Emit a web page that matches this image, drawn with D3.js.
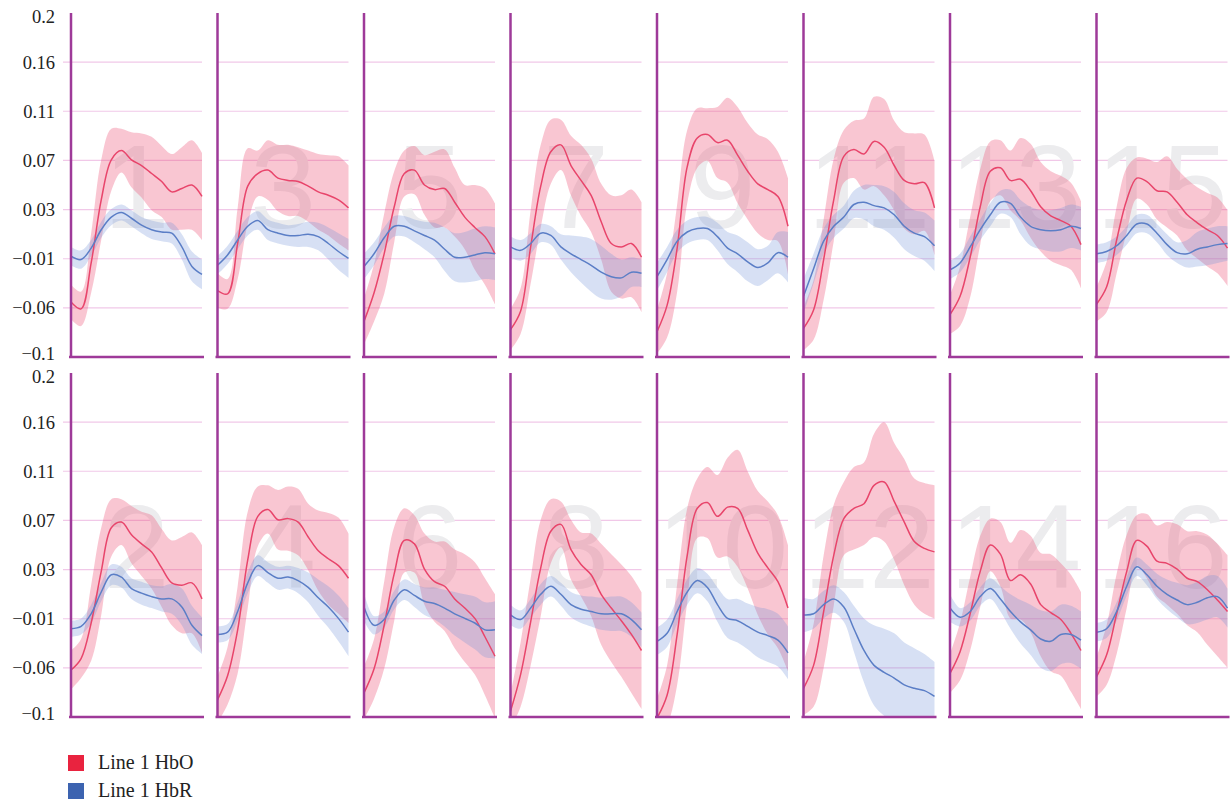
<!DOCTYPE html>
<html><head><meta charset="utf-8">
<script src="https://cdn.jsdelivr.net/npm/d3@7"></script>
<style>html,body{margin:0;padding:0;background:#fff;} svg{display:block}</style>
</head><body><svg id="chart" width="1230" height="803"></svg>
<script>
// ---------- data ----------
const timePoints = [0,1,2,3,4,5,6,7,8,9,10,11,12,13];
const channelRows = [[1,3,5,7,9,11,13,15],[2,4,6,8,10,12,14,16]];
const yTickValues = [-0.1,-0.0571,-0.0143,0.0286,0.0714,0.1143,0.1571,0.2];
const yTickLabels = ["\u22120.1","\u22120.06","\u22120.01","0.03","0.07","0.11","0.16","0.2"];
const seriesNames = ["Line 1 HbO","Line 1 HbR"];

// index = channel - 1
const hboMean = [
 [-0.052,-0.058,-0.018,0.037,0.072,0.080,0.072,0.067,0.060,0.053,0.044,0.047,0.050,0.040],
 [-0.059,-0.049,-0.018,0.027,0.065,0.070,0.059,0.051,0.044,0.030,0.017,0.015,0.017,0.003],
 [-0.042,-0.045,-0.001,0.049,0.060,0.063,0.056,0.054,0.053,0.049,0.044,0.041,0.037,0.030],
 [-0.085,-0.064,-0.024,0.037,0.075,0.081,0.072,0.073,0.070,0.057,0.045,0.038,0.032,0.021],
 [-0.069,-0.044,-0.010,0.031,0.060,0.063,0.050,0.046,0.047,0.035,0.022,0.013,0.005,-0.010],
 [-0.079,-0.058,-0.020,0.025,0.054,0.051,0.029,0.018,0.014,0.003,-0.005,-0.014,-0.030,-0.047],
 [-0.076,-0.060,-0.004,0.049,0.079,0.085,0.067,0.054,0.041,0.018,-0.001,-0.004,-0.001,-0.013],
 [-0.095,-0.063,-0.017,0.030,0.062,0.068,0.046,0.033,0.024,0.007,-0.005,-0.016,-0.028,-0.042],
 [-0.078,-0.055,-0.005,0.066,0.091,0.094,0.087,0.089,0.076,0.062,0.051,0.046,0.040,0.014],
 [-0.101,-0.081,-0.028,0.041,0.082,0.087,0.075,0.083,0.082,0.063,0.043,0.030,0.018,-0.005],
 [-0.075,-0.059,-0.015,0.037,0.075,0.081,0.077,0.088,0.083,0.067,0.054,0.051,0.052,0.030],
 [-0.075,-0.055,-0.008,0.041,0.073,0.082,0.086,0.102,0.105,0.088,0.070,0.053,0.047,0.044],
 [-0.063,-0.047,-0.013,0.031,0.062,0.065,0.054,0.055,0.045,0.031,0.023,0.019,0.014,-0.002],
 [-0.062,-0.043,-0.010,0.027,0.050,0.042,0.019,0.024,0.016,-0.002,-0.009,-0.015,-0.027,-0.042],
 [-0.054,-0.039,0.002,0.037,0.056,0.053,0.045,0.044,0.035,0.024,0.017,0.011,0.006,-0.005],
 [-0.065,-0.046,-0.010,0.027,0.054,0.049,0.036,0.034,0.029,0.021,0.018,0.011,0.002,-0.008]
];
const hboErr = [
 [0.015,0.015,0.026,0.035,0.027,0.019,0.024,0.028,0.032,0.031,0.033,0.036,0.039,0.038],
 [0.017,0.017,0.033,0.038,0.025,0.020,0.025,0.028,0.032,0.034,0.037,0.042,0.044,0.047],
 [0.015,0.013,0.031,0.033,0.020,0.026,0.029,0.031,0.030,0.031,0.033,0.035,0.038,0.037],
 [0.020,0.025,0.038,0.042,0.026,0.021,0.026,0.028,0.029,0.029,0.035,0.040,0.042,0.039],
 [0.020,0.025,0.035,0.031,0.020,0.021,0.026,0.033,0.034,0.030,0.028,0.037,0.042,0.044],
 [0.023,0.026,0.038,0.041,0.028,0.025,0.031,0.035,0.039,0.043,0.047,0.049,0.051,0.054],
 [0.018,0.020,0.032,0.036,0.028,0.022,0.026,0.031,0.032,0.033,0.042,0.045,0.047,0.048],
 [0.015,0.028,0.038,0.042,0.028,0.020,0.026,0.028,0.036,0.044,0.047,0.049,0.051,0.051],
 [0.019,0.028,0.038,0.032,0.026,0.023,0.031,0.037,0.042,0.042,0.043,0.044,0.039,0.042],
 [0.017,0.026,0.044,0.041,0.026,0.031,0.036,0.043,0.051,0.051,0.054,0.058,0.058,0.055],
 [0.019,0.026,0.035,0.036,0.023,0.025,0.031,0.039,0.042,0.039,0.042,0.044,0.042,0.041],
 [0.023,0.036,0.049,0.044,0.032,0.036,0.036,0.045,0.052,0.051,0.055,0.055,0.057,0.058],
 [0.017,0.026,0.035,0.033,0.026,0.024,0.026,0.036,0.041,0.039,0.039,0.039,0.038,0.038],
 [0.017,0.025,0.032,0.031,0.023,0.028,0.033,0.039,0.042,0.045,0.051,0.049,0.051,0.051],
 [0.015,0.022,0.029,0.028,0.018,0.020,0.025,0.031,0.029,0.031,0.031,0.032,0.033,0.033],
 [0.017,0.026,0.035,0.032,0.022,0.028,0.031,0.036,0.039,0.041,0.044,0.048,0.049,0.049]
];
const hbrMean = [
 [-0.012,-0.015,-0.005,0.011,0.022,0.026,0.021,0.015,0.011,0.009,0.008,-0.004,-0.021,-0.028],
 [-0.023,-0.021,-0.010,0.009,0.024,0.022,0.012,0.008,0.005,0.003,0.003,-0.004,-0.020,-0.029],
 [-0.020,-0.011,0.002,0.014,0.019,0.011,0.008,0.006,0.006,0.007,0.005,-0.001,-0.008,-0.014],
 [-0.028,-0.026,-0.008,0.017,0.032,0.026,0.021,0.022,0.019,0.013,0.004,-0.004,-0.014,-0.026],
 [-0.021,-0.010,0.004,0.014,0.014,0.010,0.006,0.002,-0.006,-0.013,-0.013,-0.011,-0.009,-0.010],
 [-0.004,-0.020,-0.015,0.002,0.011,0.006,0.001,-0.001,-0.005,-0.010,-0.014,-0.018,-0.024,-0.024],
 [-0.004,-0.007,-0.001,0.008,0.006,-0.004,-0.010,-0.015,-0.020,-0.026,-0.030,-0.031,-0.026,-0.027],
 [-0.011,-0.015,-0.005,0.007,0.014,0.007,-0.002,-0.006,-0.008,-0.010,-0.010,-0.010,-0.015,-0.024],
 [-0.030,-0.015,0.001,0.009,0.012,0.012,0.005,-0.005,-0.010,-0.017,-0.022,-0.018,-0.009,-0.013],
 [-0.034,-0.027,-0.008,0.009,0.019,0.013,-0.002,-0.014,-0.016,-0.021,-0.026,-0.029,-0.033,-0.044],
 [-0.047,-0.023,0.001,0.014,0.022,0.033,0.035,0.032,0.030,0.024,0.014,0.008,0.005,-0.003],
 [-0.011,-0.010,-0.002,0.003,-0.004,-0.023,-0.042,-0.055,-0.061,-0.066,-0.072,-0.075,-0.077,-0.082],
 [-0.024,-0.018,-0.004,0.011,0.024,0.035,0.034,0.022,0.014,0.011,0.010,0.011,0.014,0.012],
 [-0.005,-0.013,-0.008,0.005,0.012,0.003,-0.008,-0.017,-0.024,-0.032,-0.034,-0.028,-0.028,-0.033],
 [-0.010,-0.008,-0.003,0.006,0.016,0.016,0.008,-0.002,-0.009,-0.010,-0.006,-0.004,-0.002,-0.001],
 [-0.026,-0.023,-0.008,0.014,0.031,0.024,0.014,0.007,0.002,-0.002,0.000,0.004,0.005,-0.005]
];
const hbrErr = [
 [0.008,0.008,0.007,0.007,0.007,0.007,0.007,0.007,0.008,0.008,0.009,0.011,0.013,0.013],
 [0.007,0.007,0.008,0.008,0.009,0.009,0.009,0.010,0.010,0.011,0.013,0.016,0.017,0.016],
 [0.008,0.008,0.008,0.008,0.008,0.009,0.009,0.009,0.010,0.011,0.012,0.014,0.016,0.017],
 [0.007,0.007,0.008,0.009,0.009,0.009,0.010,0.010,0.011,0.013,0.016,0.018,0.020,0.021],
 [0.011,0.010,0.009,0.009,0.009,0.010,0.012,0.015,0.019,0.021,0.022,0.023,0.023,0.023],
 [0.012,0.008,0.007,0.008,0.009,0.010,0.012,0.014,0.016,0.019,0.021,0.023,0.024,0.025],
 [0.009,0.009,0.009,0.008,0.008,0.011,0.016,0.020,0.023,0.023,0.020,0.016,0.013,0.012],
 [0.009,0.008,0.008,0.009,0.009,0.010,0.011,0.012,0.013,0.014,0.015,0.015,0.015,0.015],
 [0.012,0.011,0.010,0.010,0.010,0.010,0.012,0.014,0.016,0.017,0.016,0.015,0.018,0.022],
 [0.012,0.012,0.011,0.011,0.011,0.012,0.015,0.017,0.019,0.020,0.022,0.023,0.023,0.023],
 [0.015,0.013,0.011,0.010,0.010,0.012,0.015,0.018,0.019,0.020,0.020,0.020,0.021,0.022],
 [0.015,0.013,0.012,0.012,0.013,0.020,0.028,0.035,0.038,0.039,0.037,0.035,0.032,0.030],
 [0.008,0.008,0.009,0.009,0.010,0.010,0.012,0.015,0.017,0.017,0.018,0.019,0.019,0.019],
 [0.012,0.008,0.008,0.008,0.009,0.011,0.015,0.019,0.022,0.025,0.026,0.026,0.025,0.025],
 [0.008,0.008,0.008,0.008,0.008,0.008,0.008,0.009,0.009,0.012,0.015,0.016,0.016,0.015],
 [0.008,0.008,0.008,0.008,0.008,0.009,0.011,0.013,0.015,0.017,0.018,0.019,0.018,0.017]
];

// ---------- layout / style ----------
const panelW = 131, panelH = 344;
const colors = {
  hboLine:"#e8456b", hboBand:"#ec4d74", hbrLine:"#5b7ec6", hbrBand:"#6f8fd8",
  axis:"#9e3a99", grid:"#f1c8e8", bigNum:"#ececee",
  legendHbo:"#e9233f", legendHbr:"#3c63b0"
};
const svg = d3.select("#chart");
const colScale = d3.scaleBand().domain(d3.range(8)).range([71, 71 + 146.5*8]);
const rowScale = d3.scaleBand().domain([0,1]).range([13, 13 + 360*2]);
const x = d3.scaleLinear().domain([0, 13]).range([0, panelW]);
const y = d3.scaleLinear().domain([-0.1, 0.2]).range([panelH, 0]);
const curve = d3.curveCatmullRom.alpha(0.5);

const band = (m, e) => d3.area()
  .x((d,i)=>x(timePoints[i]))
  .y0((d,i)=>y(m[i]-e[i]))
  .y1((d,i)=>y(m[i]+e[i]))
  .curve(curve)(timePoints);
const line = m => d3.line()
  .x((d,i)=>x(timePoints[i]))
  .y((d,i)=>y(m[i]))
  .curve(curve)(timePoints);

const defs = svg.append("defs");
defs.append("clipPath").attr("id","panelClip")
  .append("rect").attr("x",0).attr("y",0).attr("width",panelW+1).attr("height",panelH);

channelRows.forEach((row, r) => {
  row.forEach((ch, c) => {
    const k = ch - 1;
    const g = svg.append("g").attr("transform", `translate(${colScale(c)},${rowScale(r)})`);
    g.selectAll("line.grid").data(yTickValues.slice(1, -1)).enter().append("line")
      .attr("class","grid")
      .attr("x1", c === 0 ? -8 : 0).attr("x2", panelW)
      .attr("y1", d=>y(d)).attr("y2", d=>y(d))
      .attr("stroke", colors.grid).attr("stroke-width", 1.2);
    g.append("text").attr("x", panelW/2).attr("y", 215)
      .attr("text-anchor","middle")
      .attr("font-family","'Liberation Sans', Arial, sans-serif")
      .attr("font-size", 118).attr("fill", colors.bigNum)
      .text(ch);
    const pg = g.append("g").attr("clip-path","url(#panelClip)");
    pg.append("path").attr("d", band(hboMean[k], hboErr[k]))
      .attr("fill", colors.hboBand).attr("fill-opacity", 0.32);
    pg.append("path").attr("d", band(hbrMean[k], hbrErr[k]))
      .attr("fill", colors.hbrBand).attr("fill-opacity", 0.28);
    pg.append("path").attr("d", line(hboMean[k]))
      .attr("fill","none").attr("stroke", colors.hboLine).attr("stroke-width", 1.5);
    pg.append("path").attr("d", line(hbrMean[k]))
      .attr("fill","none").attr("stroke", colors.hbrLine).attr("stroke-width", 1.5);
    g.append("line").attr("x1",-2).attr("x2",panelW+2).attr("y1",panelH).attr("y2",panelH)
      .attr("stroke", colors.axis).attr("stroke-width", 2.5);
    g.append("line").attr("x1",0).attr("x2",0).attr("y1",0).attr("y2",panelH+1)
      .attr("stroke", colors.axis).attr("stroke-width", 2.5);
    if (c === 0) {
      const ax = d3.axisLeft(y).tickValues(yTickValues)
        .tickFormat((d,i)=>yTickLabels[i]).tickSize(0).tickPadding(16);
      const a = g.append("g").call(ax);
      a.select(".domain").remove();
      a.selectAll("text").attr("font-family","'Liberation Serif', 'Times New Roman', serif")
        .attr("font-size", 18.5).attr("fill","#222");
      // keep the end labels of stacked rows apart
      a.selectAll(".tick").filter((d,i)=>i===0).select("text").attr("dy","0.15em");
      a.selectAll(".tick").filter((d,i)=>i===yTickValues.length-1).select("text").attr("dy","0.49em");
    }
  });
});

// legend
const legend = svg.append("g").attr("transform","translate(68,754)");
const legendColors = [colors.legendHbo, colors.legendHbr];
seriesNames.forEach((name, i) => {
  const lg = legend.append("g").attr("transform", `translate(0,${i*28})`);
  lg.append("rect").attr("x",0).attr("y",1).attr("width",16).attr("height",16).attr("fill",legendColors[i]);
  lg.append("text").attr("x",30).attr("y",15)
    .attr("font-family","'Liberation Serif', 'Times New Roman', serif")
    .attr("font-size",20).attr("fill","#222").text(name);
});
</script>
</body></html>
